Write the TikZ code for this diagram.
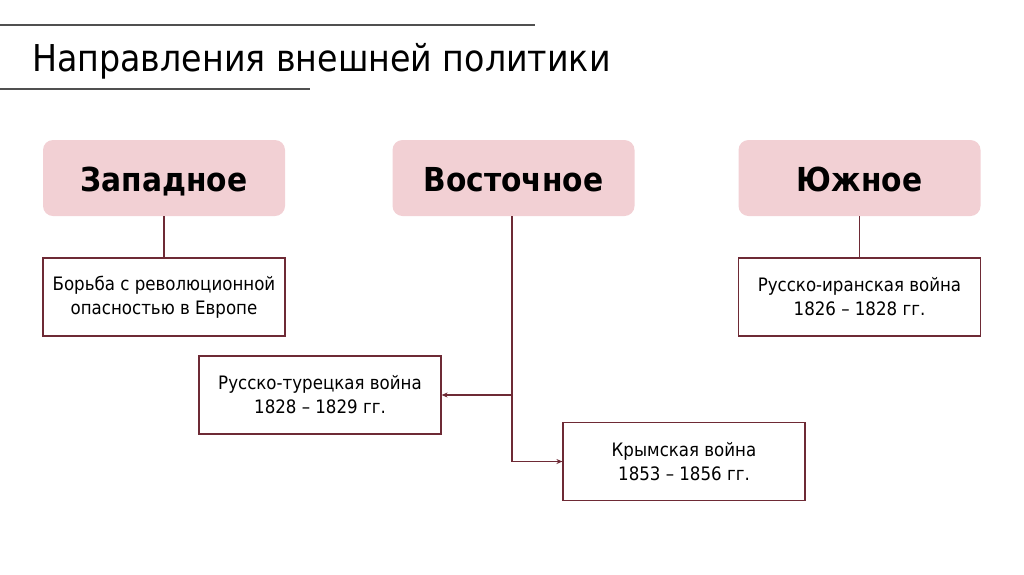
\documentclass[tikz,border=0pt]{standalone}
\usepackage{fontspec}
\setmainfont{DejaVu Sans Condensed}
\usetikzlibrary{arrows.meta}
\definecolor{pinkfill}{HTML}{F2D0D4}
\definecolor{maroon}{HTML}{6E2A35}
\definecolor{rulegray}{HTML}{505050}
\tikzset{
  head/.style={fill=pinkfill, draw=none, rounded corners=10pt, minimum width=242pt, minimum height=76pt, text height=26pt, text depth=0pt, font=\bfseries\fontsize{33}{40}\selectfont},
  item/.style={draw=maroon, line width=1.2pt, fill=white, minimum width=242pt, minimum height=78pt, align=center, font=\fontsize{18.5}{24}\selectfont},
  conn/.style={draw=maroon, line width=1.2pt},
  arr/.style={conn, -{Stealth[length=6pt,width=5pt]}}
}
\begin{document}
\begin{tikzpicture}[x=1pt,y=-1pt]
\useasboundingbox (0,0) rectangle (1024,574);
\coordinate (l1a) at (0,25); \coordinate (l1b) at (535,25);
\coordinate (l2a) at (0,89); \coordinate (l2b) at (310,89);
\draw[rulegray, line width=1.5pt] (l1a) -- (l1b);
\draw[rulegray, line width=1.5pt] (l2a) -- (l2b);
\node[anchor=west, font=\fontsize{37}{44}\selectfont, inner sep=0pt] (title) at (32,61) {Направления внешней политики};

\node[head] (west) at (164,178) {Западное};
\node[head] (east) at (513.5,178) {Восточное};
\node[head] (south) at (859.5,178) {Южное};

\node[item] (w1) at (164,297) {Борьба с революционной\\опасностью в Европе};
\node[item] (s1) at (859.5,297) {Русско-иранская война\\1826 – 1828 гг.};
\node[item] (e1) at (320,395) {Русско-турецкая война\\1828 – 1829 гг.};
\node[item] (e2) at (684,461.5) {Крымская война\\1853 – 1856 гг.};

\draw[conn] (west.south) -- (w1.north);
\draw[conn] (south.south) -- (s1.north);
\coordinate (ej) at (512,461.5);
\coordinate (em) at (512,395);
\draw[conn] (512,216) coordinate (etop) -- (ej);
\draw[arr] (em) -- (e1.east);
\draw[arr] (ej) -- (e2.west);
\end{tikzpicture}
\end{document}
